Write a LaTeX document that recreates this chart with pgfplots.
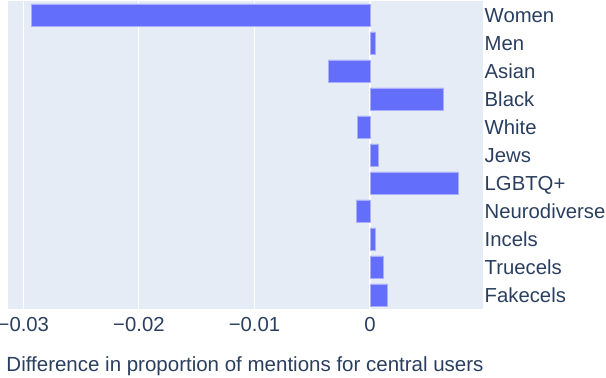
\documentclass[border=0pt]{standalone}
\usepackage{fontspec}
\setmainfont{Liberation Sans}
\usepackage{pgfplots}
\pgfplotsset{compat=1.18}
\definecolor{bgplot}{HTML}{E5ECF6}
\definecolor{barblue}{HTML}{636EFA}
\definecolor{txt}{HTML}{2A3F5F}
\begin{document}
\begin{tikzpicture}
\useasboundingbox (-7.5bp,-69bp) rectangle (598.5bp,309bp);
\begin{axis}[
  at={(0,0)}, anchor=south west,
  scale only axis, width=475bp, height=308bp,
  xmin=-0.03137, xmax=0.00973,
  ymin=-0.5, ymax=10.5, y dir=reverse,
  axis background/.style={fill=bgplot},
  axis line style={draw=none},
  major tick length=0pt,
  scaled x ticks=false,
  xtick={-0.03,-0.02,-0.01,0},
  xticklabels={−0.03,−0.02,−0.01,0},
  ytick={0,...,10},
  yticklabels={Women,Men,Asian,Black,White,Jews,LGBTQ+,Neurodiverse,Incels,Truecels,Fakecels},
  yticklabel pos=right,
  xmajorgrids, grid style={white, line width=1bp},
  tick label style={font=\fontsize{20.3bp}{24bp}\selectfont, text=txt, inner sep=0pt},
  xticklabel style={anchor=north, yshift=-8bp},
  yticklabel style={anchor=base west, xshift=2bp, yshift=-7bp},
  xlabel={Difference in proportion of mentions for central users},
  xlabel style={font=\fontsize{20.5bp}{24bp}\selectfont, text=txt, at={(axis description cs:0.5,0)},
    anchor=base, inner sep=0pt, yshift=-62.7bp},
  xbar, bar width=0.8,
]
% zero line sits under the bars
\draw[white, line width=2bp] (axis cs:0,-0.5) -- (axis cs:0,10.5);
\addplot[fill=barblue, draw=barblue!55!white, line width=0.5bp] coordinates {
  (-0.0293,0) (0.00045,1) (-0.00358,2) (0.00635,3) (-0.00109,4) (0.00069,5)
  (0.00765,6) (-0.00121,7) (0.00047,8) (0.00113,9) (0.0015,10)
};
\end{axis}
\end{tikzpicture}
\end{document}
